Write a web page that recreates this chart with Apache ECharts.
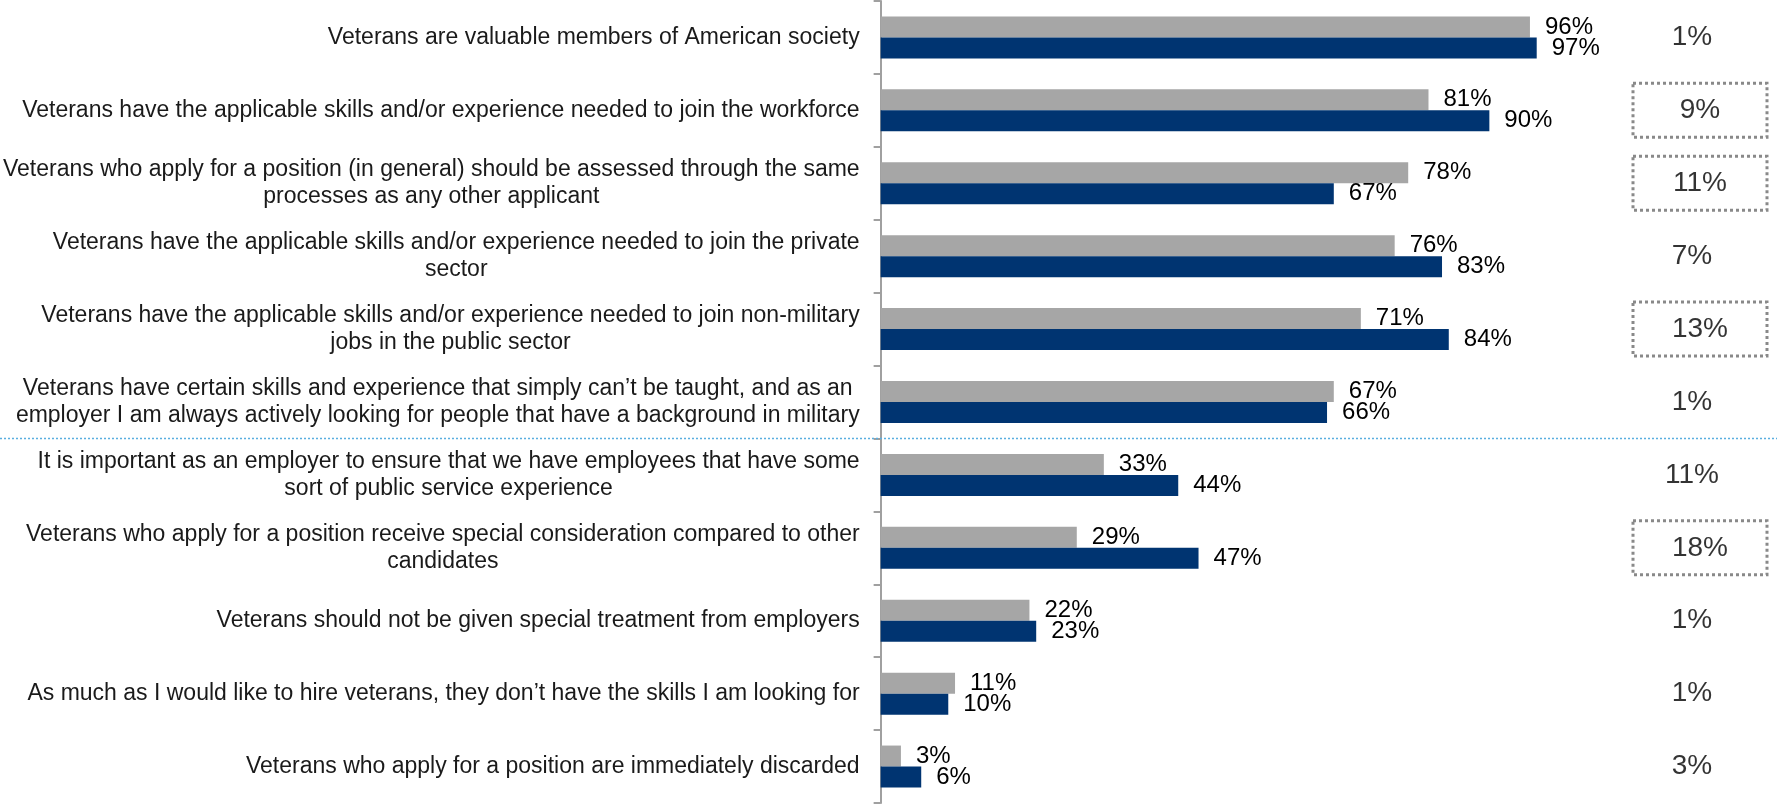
<!DOCTYPE html>
<html>
<head>
<meta charset="utf-8">
<script src="https://cdn.jsdelivr.net/npm/echarts@6/dist/echarts.min.js"></script>
<style>
html,body{margin:0;padding:0;background:#fff;}
#chart{width:1777px;height:805px;}
</style>
</head>
<body>
<div id="chart"></div>
<script>
const categories = [
  "Veterans are valuable members of American society",
  "Veterans have the applicable skills and/or experience needed to join the workforce",
  "Veterans who apply for a position (in general) should be assessed through the same\nprocesses as any other applicant",
  "Veterans have the applicable skills and/or experience needed to join the private\nsector",
  "Veterans have the applicable skills and/or experience needed to join non-military\njobs in the public sector",
  "Veterans have certain skills and experience that simply can\u2019t be taught, and as an\nemployer I am always actively looking for people that have a background in military",
  "It is important as an employer to ensure that we have employees that have some\nsort of public service experience",
  "Veterans who apply for a position receive special consideration compared to other\ncandidates",
  "Veterans should not be given special treatment from employers",
  "As much as I would like to hire veterans, they don\u2019t have the skills I am looking for",
  "Veterans who apply for a position are immediately discarded"
];
const grayValues = [96, 81, 78, 76, 71, 67, 33, 29, 22, 11, 3];
const blueValues = [97, 90, 67, 83, 84, 66, 44, 47, 23, 10, 6];
const diffValues = [1, 9, 11, 7, 13, 1, 11, 18, 1, 1, 3];
const boxed = [false, true, true, false, true, false, false, true, false, false, false];
const dividerAfterIndex = 5;

const FONT = '"Liberation Sans", Arial, sans-serif';
const chart = echarts.init(document.getElementById('chart'), null, {renderer: 'canvas'});

const diffData = diffValues.map((d, i) => {
  const item = {value: [0, i, d]};
  if (boxed[i]) {
    item.label = {
      borderColor: '#6b6b6b', borderWidth: 3, borderType: 'dotted',
      width: 134, height: 54, lineHeight: 54, align: 'center', verticalAlign: 'middle'
    };
  } else {
    item.label = {offset: [-8, 0]};
  }
  return item;
});

chart.setOption({
  animation: false,
  backgroundColor: '#ffffff',
  grid: [
    {left: 879, right: 220, top: 1, bottom: 2, containLabel: false},
    {left: 1630, right: 7, top: 1, bottom: 2, containLabel: false}
  ],
  xAxis: [
    {type: 'value', gridIndex: 0, min: 0, max: 100, show: false},
    {type: 'value', gridIndex: 1, min: -1, max: 1, show: false}
  ],
  yAxis: [
    {
      type: 'category', gridIndex: 0, inverse: true, data: categories,
      axisLine: {show: true, lineStyle: {color: '#a0a0a0', width: 2}},
      axisTick: {show: true, length: 7, lineStyle: {color: '#a0a0a0', width: 2}},
      splitLine: {show: false},
      axisLabel: {
        margin: 21, color: '#1a1a1a', fontFamily: FONT, fontSize: 23, lineHeight: 27,
        formatter: (v) => v.split('\n').map(l => '{c|' + l + '}').join('\n'),
        rich: {c: {align: 'center', fontFamily: FONT, fontSize: 23, lineHeight: 27, color: '#1a1a1a'}}
      }
    },
    {type: 'category', gridIndex: 1, inverse: true, data: categories, show: false}
  ],
  series: [
    {
      name: 'Gray', type: 'bar', data: grayValues, barWidth: 21, barGap: '0%',
      itemStyle: {color: '#a6a6a6'},
      label: {show: true, position: 'right', distance: 15, formatter: '{c}%', color: '#000', fontFamily: FONT, fontSize: 24}
    },
    {
      name: 'Blue', type: 'bar', data: blueValues, barWidth: 21, barGap: '0%',
      itemStyle: {color: '#003471'},
      label: {show: true, position: 'right', distance: 15, formatter: '{c}%', color: '#000', fontFamily: FONT, fontSize: 24}
    },
    {
      name: 'Difference', type: 'scatter', xAxisIndex: 1, yAxisIndex: 1,
      symbolSize: 0, data: diffData, encode: {x: 0, y: 1},
      label: {show: true, position: 'inside', formatter: (p) => p.value[2] + '%', color: '#000', fontFamily: FONT, fontSize: 28}
    }
  ]
});

const y1 = chart.convertToPixel({yAxisIndex: 0}, dividerAfterIndex);
const y2 = chart.convertToPixel({yAxisIndex: 0}, dividerAfterIndex + 1);
const yd = (y1 + y2) / 2;
chart.setOption({
  graphic: [{
    type: 'line', z: 10,
    shape: {x1: 0, y1: yd, x2: 1777, y2: yd},
    style: {stroke: '#5aaee0', lineWidth: 1.5, lineDash: [2, 2]}
  }]
});
</script>
</body>
</html>
